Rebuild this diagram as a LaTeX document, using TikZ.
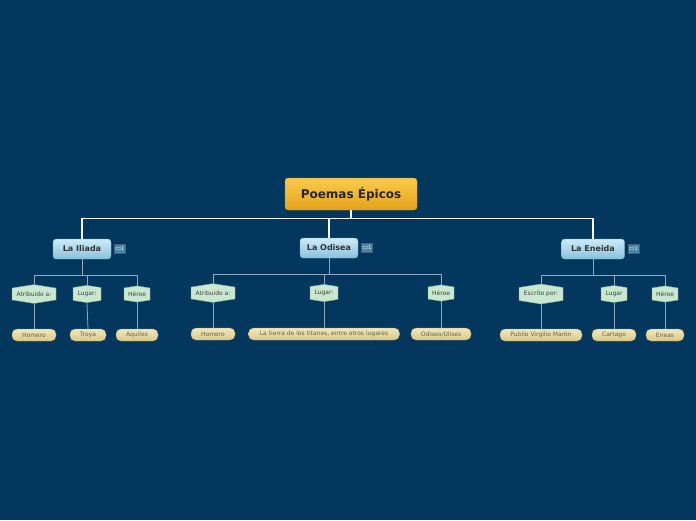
\documentclass[tikz,border=0pt]{standalone}
\usepackage{fontspec}
\setmainfont{DejaVu Sans}
\usetikzlibrary{positioning,shapes.symbols}
\definecolor{bgblue}{HTML}{03375E}
\definecolor{roottop}{HTML}{F9CB4E}
\definecolor{rootbot}{HTML}{E5A21A}
\definecolor{rootdraw}{HTML}{C98A10}
\definecolor{topictop}{HTML}{CDEBF6}
\definecolor{topicbot}{HTML}{8AC2DC}
\definecolor{topicdraw}{HTML}{6AA6C4}
\definecolor{hexfill}{HTML}{C9E8CF}
\definecolor{hexdraw}{HTML}{7FAE8A}
\definecolor{leaftop}{HTML}{F0E7BC}
\definecolor{leafbot}{HTML}{D8CA8C}
\definecolor{leafdraw}{HTML}{A99A5C}
\definecolor{leaftext}{HTML}{6B6242}
\definecolor{wirecol}{HTML}{8FA9C2}
\begin{document}
\begin{tikzpicture}[x=1pt, y=-1pt,
    root/.style={rectangle, rounded corners=3pt, draw=rootdraw, top color=roottop, bottom color=rootbot, minimum width=132pt, minimum height=32pt, font=\fontsize{12}{14}\selectfont\bfseries, text=black!85},
    topic/.style={rectangle, rounded corners=3pt, draw=topicdraw, top color=topictop, bottom color=topicbot, minimum height=20pt, inner xsep=4pt, font=\fontsize{8}{10}\selectfont\bfseries, text=black!80},
    badge/.style={rectangle, draw=topicdraw!60!black, fill=topicdraw!70!bgblue, inner sep=1pt, minimum height=9pt, font=\fontsize{5}{6}\selectfont, text=white},
    hexa/.style={shape=signal, signal to=north and south, signal pointer angle=162, draw=hexdraw, fill=hexfill, inner xsep=2pt, inner ysep=3.6pt, font=\fontsize{6}{7}\selectfont, text=black!75},
    leaf/.style={rectangle, rounded corners=5pt, draw=leafdraw, top color=leaftop, bottom color=leafbot, minimum height=12pt, inner xsep=4pt, inner ysep=1pt, font=\fontsize{6}{7}\selectfont, text=leaftext},
    trunk/.style={draw=white, line width=1.3pt},
    wire/.style={draw=wirecol, line width=0.8pt},
]
\fill[bgblue] (0,0) rectangle (696,520);
\useasboundingbox (0,0) rectangle (696,520);

% central topic
\node[root] (poemas) at (351,194) {Poemas Épicos};

% main topics
\node[topic, minimum width=58pt] (iliada) at (82,249) {La Iliada};
\node[topic, minimum width=58pt] (odisea) at (329,248) {La Odisea};
\node[topic, minimum width=63pt] (eneida) at (593,249) {La Eneida};
\node[badge, right=3pt of iliada] (bIliada) {{\fontsize{6}{6}\selectfont ▭}1};
\node[badge, right=3pt of odisea] (bOdisea) {{\fontsize{6}{6}\selectfont ▭}1};
\node[badge, right=3pt of eneida] (bEneida) {{\fontsize{6}{6}\selectfont ▭}1};

% La Iliada
\node[hexa, minimum width=44pt] (ilAtr) at (34,294) {Atribuido a:};
\node[hexa, minimum width=28pt] (ilLug) at (87,294) {Lugar:};
\node[hexa, minimum width=26pt] (ilHer) at (137,294) {Héroe};
\node[leaf, minimum width=44pt] (ilHom) at (34,335) {Homero};
\node[leaf, minimum width=36pt] (ilTro) at (88,335) {Troya};
\node[leaf, minimum width=42pt] (ilAqu) at (137,335) {Aquiles};

% La Odisea
\node[hexa, minimum width=44pt] (odAtr) at (213,293) {Atribuido a:};
\node[hexa, minimum width=28pt] (odLug) at (324,293) {Lugar:};
\node[hexa, minimum width=26pt] (odHer) at (441,293) {Héroe};
\node[leaf, minimum width=44pt] (odHom) at (213,334) {Homero};
\node[leaf, minimum width=151pt] (odTie) at (324,334) {La tierra de los titanes, entre otros lugares};
\node[leaf, minimum width=60pt] (odUli) at (441,334) {Odiseo/Ulises};

% La Eneida
\node[hexa, minimum width=44pt] (enEsc) at (541,294) {Escrito por:};
\node[hexa, minimum width=26pt] (enLug) at (614,294) {Lugar};
\node[hexa, minimum width=26pt] (enHer) at (665,294) {Héroe};
\node[leaf, minimum width=82pt] (enPub) at (541,335) {Publio Virgilio Marón};
\node[leaf, minimum width=44pt] (enCar) at (614,335) {Cartago};
\node[leaf, minimum width=38pt] (enEne) at (665,335) {Eneas};

% connectors
\draw[trunk] (poemas.south) -- ++(0,8) coordinate (hub);
\draw[trunk] (iliada.north) |- (hub) -| (eneida.north);
\draw[trunk] (odisea.north) -- (odisea.north |- hub);

\foreach \parent/\a/\b/\c in {iliada/ilAtr/ilLug/ilHer, odisea/odAtr/odLug/odHer, eneida/enEsc/enLug/enHer}{
  \draw[wire] (\parent.south) -- ++(0,16) coordinate (j\parent);
  \draw[wire] (\a.north) |- (j\parent) -| (\c.north);
  \draw[wire] (\b.north) -- (\b.north |- j\parent);
}
\foreach \h/\l in {ilAtr/ilHom, ilLug/ilTro, ilHer/ilAqu, odAtr/odHom, odLug/odTie, odHer/odUli, enEsc/enPub, enLug/enCar, enHer/enEne}
  \draw[wire] (\h.south) -- (\l.north);
\end{tikzpicture}
\end{document}
